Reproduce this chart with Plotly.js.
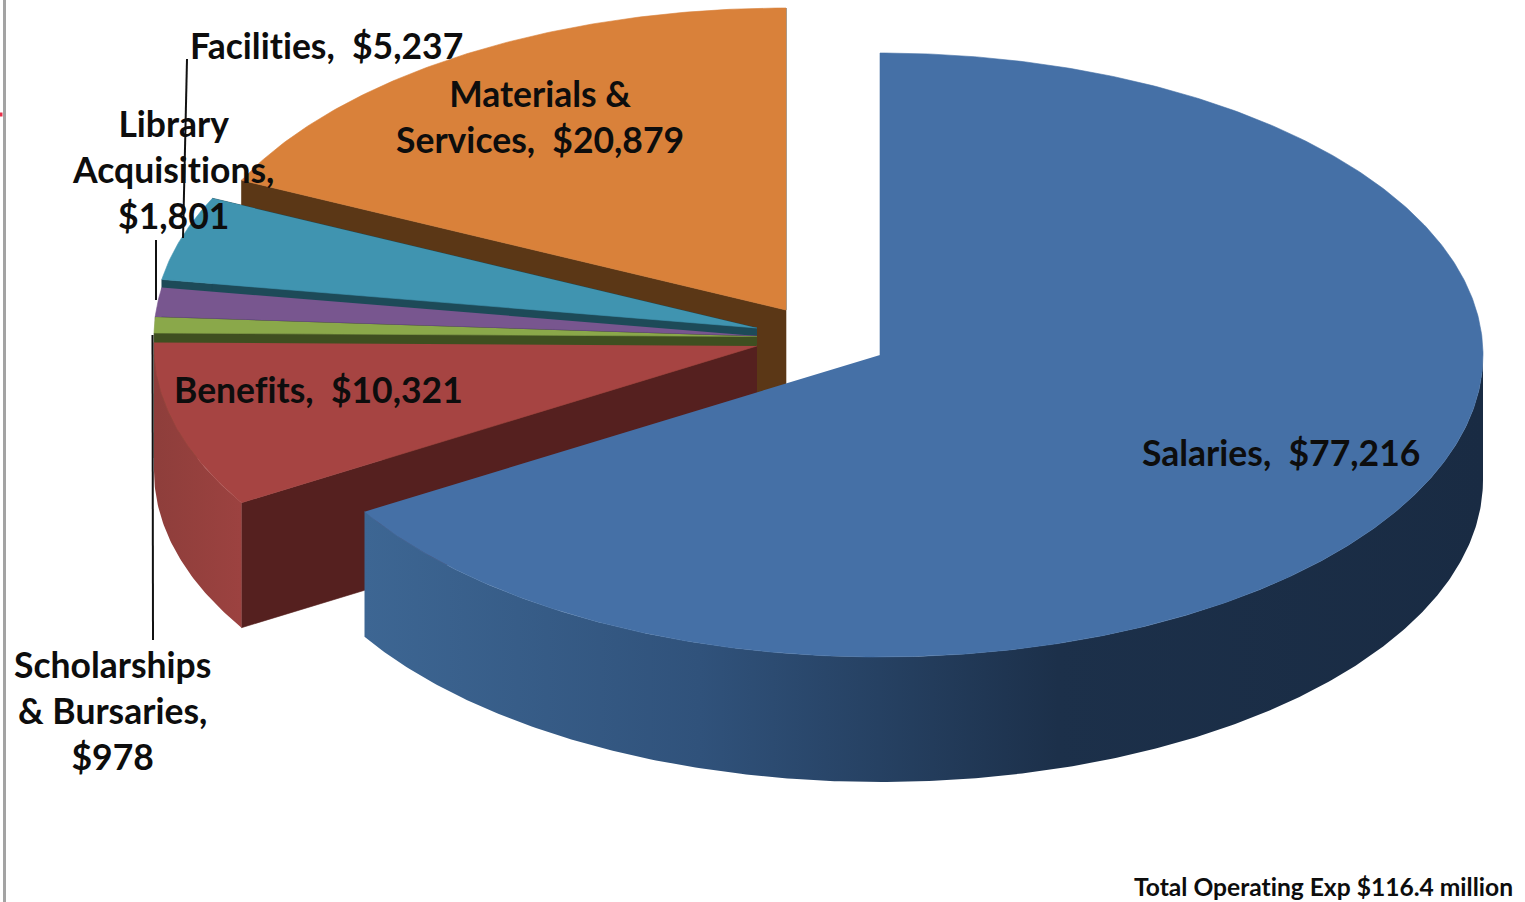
<!DOCTYPE html>
<html>
<head>
<meta charset="utf-8">
<script src="https://cdn.plot.ly/plotly-3.0.1.min.js"></script>
<style>html,body{margin:0;padding:0;background:#fff}#chart{width:1525px;height:902px}text,tspan{font-variant-ligatures:none !important;font-feature-settings:"liga" 0 !important}</style>
</head>
<body>
<div id="chart"></div>
<script>
// Data (thousands of dollars), clockwise from the 12 o'clock position
const categories = ["Salaries", "Benefits", "Scholarships & Bursaries", "Library Acquisitions", "Facilities", "Materials & Services"];
const values = [77216, 10321, 978, 1801, 5237, 20879];
const labelTexts = ["Salaries,\u00a0\u00a0$77,216", "Benefits,\u00a0\u00a0$10,321", "Scholarships<br>& Bursaries,<br>$978", "Library<br>Acquisitions,<br>$1,801", "Facilities,\u00a0\u00a0$5,237", "Materials &<br>Services,\u00a0\u00a0$20,879"];
const totalNote = "Total Operating Exp $116.4 million";

// Styles and placement
const topColors = ["#4570a6", "#a64442", "#8aa84a", "#78568f", "#4094b0", "#d9813a"];
const cutColors = ["#22395a", "#55201f", "#3f4f20", "#2b1f3c", "#1d4a58", "#5b3716"];
const wallScales = [
  [[0, "#3d6693"], [0.3, "#30527b"], [0.62, "#1c304a"], [1, "#192b43"]],
  [[0, "#8e3e3b"], [1, "#9c4240"]], null, null, null, null
];
const apexX = [880, 757, 757, 757, 757, 786];
const apexY = [355, 346, 336.5, 336, 328, 310];
const labelX = [1281, 318, 112, 173, 326, 540];
const labelY = [452, 389, 710, 169, 45, 116];
const rx = 603, ry = 302, depth = 125;

const total = values.reduce((a, b) => a + b, 0);
const rim = (i, deg, dy) => {
  const r = deg * Math.PI / 180;
  return [apexX[i] + rx * Math.sin(r), apexY[i] - ry * Math.cos(r) + dy];
};
const arc = (i, d0, d1, dy) => {
  const n = Math.max(2, Math.ceil(Math.abs(d1 - d0) * 2)), out = [];
  for (let k = 0; k <= n; k++) out.push(rim(i, d0 + (d1 - d0) * k / n, dy));
  return out;
};
const poly = (pts, name, color, grad) => {
  const t = {
    type: "scatter", mode: "lines", name: name, fill: "toself", fillcolor: color,
    x: pts.map(p => p[0]), y: pts.map(p => p[1]),
    line: {width: 0.6, color: color}, hoverinfo: "name", showlegend: false
  };
  if (grad) { t.fillgradient = {type: "horizontal", colorscale: grad}; t.line = {width: 0}; }
  return t;
};

// angle spans from values
const spans = [];
values.reduce((acc, v) => { spans.push([acc, acc + v / total * 360]); return acc + v / total * 360; }, 0);

const drawOrder = [5, 4, 3, 2, 1, 0];
const traces = [];
drawOrder.forEach(i => {
  const [a0, a1] = spans[i];
  const name = categories[i];
  // radial cut face at the start angle (seen only for slices on the left side)
  if (i !== 0) {
    const p = rim(i, a0, 0), q = rim(i, a0, depth);
    traces.push(poly([[apexX[i], apexY[i]], p, q, [apexX[i], apexY[i] + depth]], name + " cut", cutColors[i]));
  }
  // radial cut face at the end angle
  if (i === 5 || i === 4) {
    const p = rim(i, a1, 0), q = rim(i, a1, depth);
    traces.push(poly([[apexX[i], apexY[i]], p, q, [apexX[i], apexY[i] + depth]], name + " cut", cutColors[i]));
  }
  // outer wall: front half of the ellipse only
  const w0 = Math.max(a0, 90), w1 = Math.min(a1, 270);
  if (w1 > w0) {
    const wall = arc(i, w0, w1, 0).concat(arc(i, w1, w0, depth));
    traces.push(poly(wall, name + " wall", cutColors[i], wallScales[i]));
  }
  // top face
  const top = [[apexX[i], apexY[i]]].concat(arc(i, a0, a1, 0));
  traces.push(poly(top, name, topColors[i]));
});

// leader lines
const leaderLine = (xs, ys, name) => ({type: "scatter", mode: "lines", x: xs, y: ys, name: name,
  line: {color: "#111", width: 2}, hoverinfo: "skip", showlegend: false});
traces.push(leaderLine([187, 183], [59, 238], "Facilities leader"));
traces.push(leaderLine([156, 156], [240, 300], "Library leader"));
traces.push(leaderLine([152.5, 153], [335, 640], "Scholarships leader"));

const annotations = labelTexts.map((t, i) => ({
  x: labelX[i], y: labelY[i], xref: "x", yref: "y", text: "<b>" + t + "</b>", showarrow: false,
  xanchor: "center", yanchor: "middle", align: "center",
  font: {family: "Lato, 'Open Sans', sans-serif", size: 35.5, color: "#0d0d0d"}
}));
annotations.push({x: 1515, y: 886, xref: "x", yref: "y", text: "<b>" + totalNote + "</b>", showarrow: false,
  xanchor: "right", yanchor: "middle",
  font: {family: "Lato, 'Open Sans', sans-serif", size: 24.6, color: "#0d0d0d"}});

const layout = {
  width: 1525, height: 902, margin: {l: 0, r: 0, t: 0, b: 0},
  paper_bgcolor: "#fff", plot_bgcolor: "#fff", showlegend: false,
  xaxis: {range: [0, 1525], visible: false, fixedrange: true},
  yaxis: {range: [902, 0], visible: false, fixedrange: true},
  annotations: annotations,
  shapes: [
    {type: "line", xref: "x", yref: "y", x0: 4.5, x1: 4.5, y0: 0, y1: 902, line: {color: "#a3a3a3", width: 3}},
    {type: "line", xref: "x", yref: "y", x0: 0, x1: 2.5, y0: 114.5, y1: 114.5, line: {color: "#e8304a", width: 4}}
  ]
};
Plotly.newPlot("chart", traces, layout, {displayModeBar: false, staticPlot: true});
</script>
</body>
</html>
